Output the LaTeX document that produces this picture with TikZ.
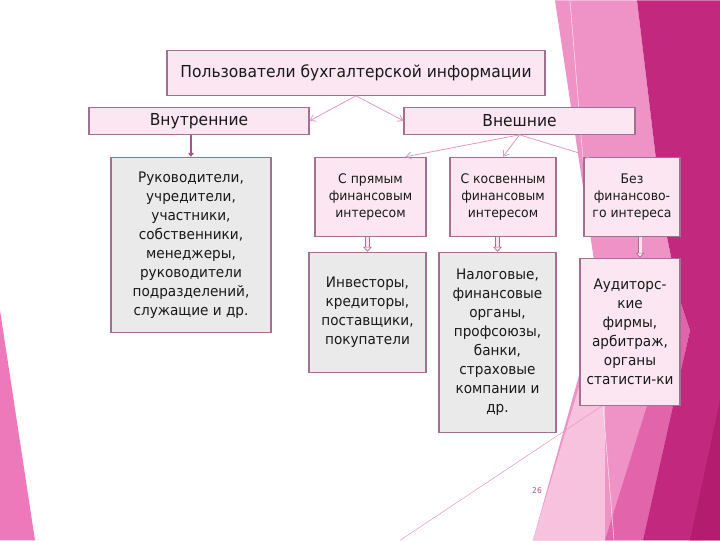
\documentclass[tikz,border=0pt]{standalone}
\usepackage{fontspec}
\setmainfont{DejaVu Sans}[FakeStretch=0.94]
\usepackage[svgnames, dvipsnames]{xcolor}
\usetikzlibrary{calc, positioning, arrows.meta}

\definecolor{boxline}{HTML}{A3718F}
\definecolor{boxpink}{HTML}{FCE6F2}
\definecolor{boxgray}{HTML}{EBEAEA}
\definecolor{thinpink}{HTML}{E39BC2}
\definecolor{darkarrow}{HTML}{9C5A84}
\definecolor{bgleft}{HTML}{EE79BA}
\definecolor{bgmid}{HTML}{EF92C5}
\definecolor{bglight}{HTML}{F6C2DE}
\definecolor{bgmag}{HTML}{E265AB}
\definecolor{bgdark}{HTML}{C2287D}
\definecolor{bgdeep}{HTML}{B41C70}
\definecolor{pagenum}{HTML}{C44D90}

\newcommand{\bigtxt}{\fontsize{16.5}{20}\selectfont}
\newcommand{\midtxt}{\fontsize{14.5}{19}\selectfont}
\newcommand{\smalltxt}{\fontsize{13.2}{16.8}\selectfont}

\begin{document}
\begin{tikzpicture}[x=1pt, y=-1pt,
    pinkbox/.style={rectangle, draw=boxline, line width=1.1pt, fill=boxpink, align=center, inner sep=2pt, text=black!90},
    graybox/.style={pinkbox, fill=boxgray},
    thinarrow/.style={draw=thinpink, line width=0.8pt, -{Straight Barb[length=5pt, width=7pt]}},
    solidarrow/.style={draw=darkarrow, line width=2pt, -{Triangle[length=4pt, width=6pt]}},
    blockarrow/.style={draw=boxline, line width=0.7pt, double=boxpink, double distance=3pt, -{Triangle[open, length=5pt, width=9pt, fill=boxpink]}}]

    % background of the slide
    \fill[white] (0,0) rectangle (720,540);
    \fill[bgleft] (0,310) -- (35,540) -- (0,540) -- cycle;
    \fill[bgmid] (555,0) -- (637,0) -- (663,217) -- (680,300) -- (700,540) -- (533,540) -- (600,300) -- cycle;
    \fill[bglight] (605,300) -- (605,540) -- (533,540) -- cycle;
    \fill[bgmag] (605,540) -- (680,300) -- (690,330) -- (643,540) -- cycle;
    \fill[bgdark] (637,0) -- (720,0) -- (720,540) -- (643,540) -- (690,330) -- (680,300) -- (663,217) -- cycle;
    \fill[bgdeep] (690,540) -- (720,540) -- (720,400) -- cycle;
    \draw[white, opacity=0.7, line width=0.6pt] (570,0) -- (614,540);
    \draw[thinpink, line width=0.5pt] (603,405) -- (400,540);

    % boxes
    \node[pinkbox, minimum width=378pt, minimum height=45pt, font=\bigtxt] (users) at (356,72.5) {Пользователи бухгалтерской информации};
    \node[pinkbox, minimum width=220pt, minimum height=27pt, font=\bigtxt] (inner) at (199,120.5) {Внутренние};
    \node[pinkbox, minimum width=231pt, minimum height=27pt, font=\bigtxt] (outer) at (519.5,120.5) {Внешние};
    \node[graybox, minimum width=160pt, minimum height=175pt, font=\midtxt] (heads) at (191,244.5) {Руководители,\\учредители,\\участники,\\собственники,\\менеджеры,\\руководители\\подразделений,\\служащие и др.};
    \node[pinkbox, minimum width=111pt, minimum height=79pt, font=\smalltxt] (direct) at (370.5,196.5) {С прямым\\финансовым\\интересом};
    \node[pinkbox, minimum width=106pt, minimum height=79pt, font=\smalltxt] (indirect) at (503,196.5) {С косвенным\\финансовым\\интересом};
    \node[pinkbox, minimum width=96pt, minimum height=79pt, font=\smalltxt] (nofin) at (632,196.5) {Без\\финансово-\\го интереса};
    \node[graybox, minimum width=117pt, minimum height=120pt, font=\midtxt] (investors) at (367.5,312) {Инвесторы,\\кредиторы,\\поставщики,\\покупатели};
    \node[graybox, minimum width=117pt, minimum height=180pt, font=\midtxt] (taxes) at (497.5,342) {Налоговые,\\финансовые\\органы,\\профсоюзы,\\банки,\\страховые\\компании и\\др.};
    \node[pinkbox, minimum width=100pt, minimum height=147pt, font=\midtxt] (auditors) at (630,331.5) {Аудиторс-\\кие\\фирмы,\\арбитраж,\\органы\\статисти-ки};

    % connectors
    \draw[thinarrow] (users.south) -- (inner.east);
    \draw[thinarrow] (users.south) -- (outer.west);
    \draw[thinarrow] (outer.south) -- ([xshift=-21pt]direct.north east);
    \draw[thinarrow] (outer.south) -- (indirect.north);
    \draw[thinarrow] (outer.south) -- ([xshift=8pt]nofin.north west);
    \draw[solidarrow] (inner.south -| heads.north) -- (heads.north);
    \draw[blockarrow] (investors.north |- direct.south) -- (investors.north);
    \draw[blockarrow] (taxes.north |- indirect.south) -- (taxes.north);
    \draw[blockarrow] ([xshift=8pt]nofin.south) -- ([xshift=8pt]nofin.south |- auditors.north);

    \node[text=pagenum, font=\fontsize{8}{8}\selectfont] (page) at (537,490) {26};
\end{tikzpicture}
\end{document}
